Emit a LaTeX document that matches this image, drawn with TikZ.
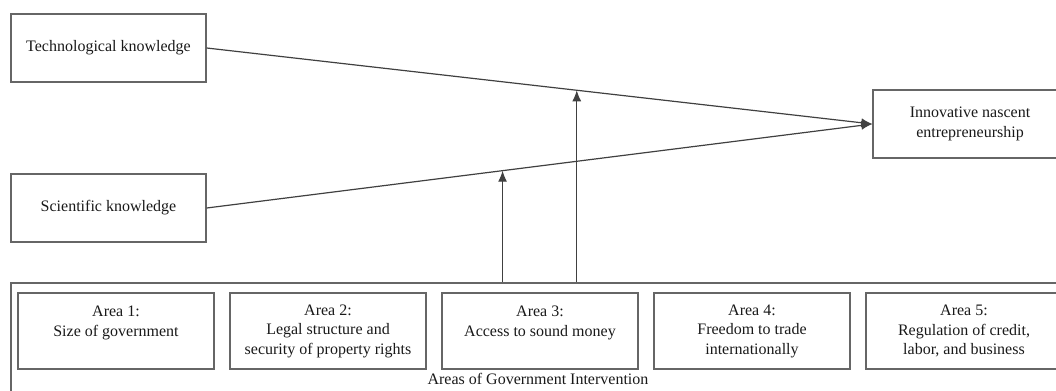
\documentclass[tikz,border=0pt]{standalone}
\usepackage{fontspec}
\setmainfont{Liberation Serif}
\usetikzlibrary{arrows.meta}
\tikzset{node distance=106pt, auto,
  box/.style={draw=black!60, line width=0.7pt, align=center, text=black!90,
    font=\fontsize{8}{9.75}\selectfont},
  area/.style={box, minimum width=98pt, minimum height=38pt},
  link/.style={draw=black!75, line width=0.6pt},
  >={Latex[length=5.5pt,width=4.5pt]}}

\begin{document}
\begin{tikzpicture}[x=0.5pt,y=-0.5pt]
  \useasboundingbox (0,0) rectangle (1056,391);
  \node[box, minimum width=97.5pt, minimum height=34pt] (T) at (108.5,48) {Technological knowledge};
  \node[box, minimum width=97.5pt, minimum height=34pt] (S) at (108.5,208) {Scientific knowledge};
  \node[box, minimum width=97pt, minimum height=34pt] (I) at (970,124) {Innovative nascent\\entrepreneurship};

  \node[box, minimum width=527pt, minimum height=62pt] (G) at (538,345) {};
  \node[area] (A1) at (116,331) {Area 1:\\Size of government\\\mbox{}};
  \node[area, right of=A1] (A2) {Area 2:\\Legal structure and\\security of property rights};
  \node[area, right of=A2] (A3) {Area 3:\\Access to sound money\\\mbox{}};
  \node[area, right of=A3] (A4) {Area 4:\\Freedom to trade\\internationally};
  \node[area, right of=A4] (A5) {Area 5:\\Regulation of credit,\\labor, and business};
  \node[text=black!90, font=\fontsize{8}{9.75}\selectfont] (L) at (538,379) {Areas of Government Intervention};

  \draw[link, ->] (T.east) to (I.west);
  \draw[link, ->] (S.east) to (I.west);
  \path (T.east) -- coordinate[pos=0.556] (t) (I.west);
  \path (S.east) -- coordinate[pos=0.4445] (s) (I.west);

  \draw[link, ->] (G.north -| s) to (s);
  \draw[link, ->] (G.north -| t) to (t);
\end{tikzpicture}
\end{document}
